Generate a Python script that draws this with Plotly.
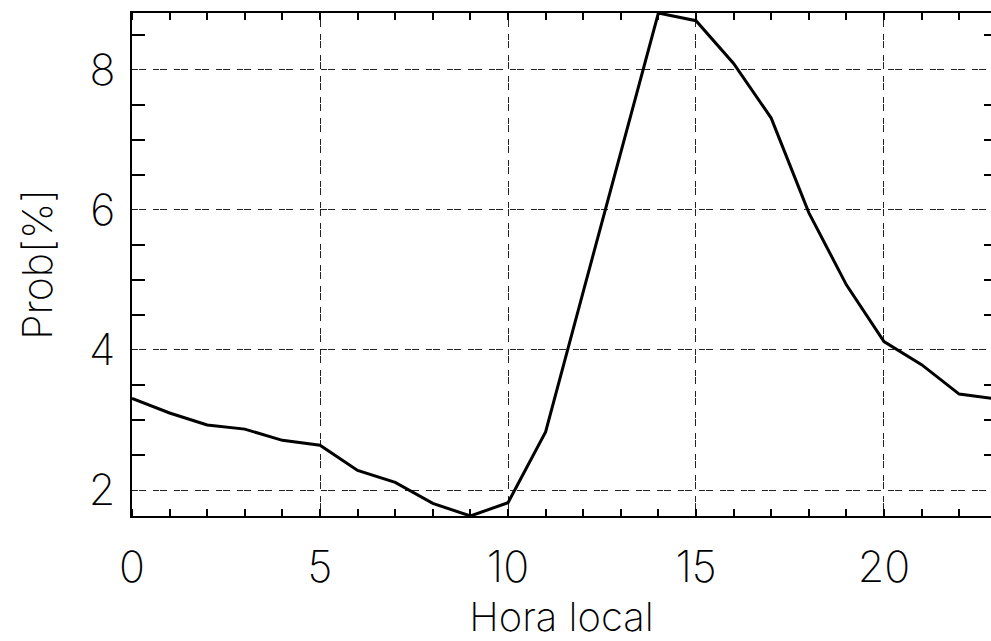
import plotly.graph_objects as go

# Hourly probability (%) over local time
hours = list(range(24))
prob = [3.31, 3.10, 2.93, 2.87, 2.71, 2.64, 2.28, 2.11, 1.81, 1.63,
        1.82, 2.83, 4.83, 6.83, 8.81, 8.70, 8.09, 7.31, 5.96, 4.93,
        4.12, 3.79, 3.37, 3.30]

x_ticks = [0, 5, 10, 15, 20]
y_ticks = [2, 4, 6, 8]
y_minor = [v / 2 for v in range(3, 18) if v % 4 != 0]

FONT = "Inter"
INK = "#000000"
GRID = "#222222"
DASH = "6px,1px,7px,7px"

x_range = [0, 22.846]
y_range = [min(prob), max(prob)]

fig = go.Figure()
fig.add_trace(go.Scatter(
    x=hours, y=prob, mode="lines",
    line=dict(color=INK, width=3),
    showlegend=False, hoverinfo="skip",
))
# invisible trace that carries the right-hand tick axis
fig.add_trace(go.Scatter(
    x=[None], y=[None], yaxis="y2", showlegend=False, hoverinfo="skip",
))

fig.update_layout(
    width=991, height=641,
    margin=dict(l=132, r=0, t=13, b=125),
    paper_bgcolor="white", plot_bgcolor="white",
    font=dict(family=FONT, color=INK, weight=200),
    xaxis=dict(
        range=x_range, tickmode="array", tickvals=x_ticks,
        ticks="", showline=True, linecolor=INK, linewidth=2, mirror="ticks",
        showgrid=True, gridcolor=GRID, gridwidth=1.3, griddash=DASH,
        zeroline=False, automargin=False,
        minor=dict(dtick=1, tick0=0, ticks="inside", ticklen=7,
                   tickwidth=1.5, tickcolor=INK, showgrid=False),
        tickfont=dict(size=43, family=FONT, weight=200),
        ticklabelstandoff=12,
        title=dict(text="Hora local", font=dict(size=40, family=FONT, weight=200),
                   standoff=25),
    ),
    yaxis=dict(
        range=y_range, tickmode="array", tickvals=y_ticks,
        ticks="", showline=True, linecolor=INK, linewidth=2,
        showgrid=True, gridcolor=GRID, gridwidth=1.3, griddash=DASH,
        zeroline=False, automargin=False,
        minor=dict(tickmode="array", tickvals=y_minor, ticks="inside",
                   ticklen=13, tickwidth=1.5, tickcolor=INK, showgrid=False),
        tickfont=dict(size=43, family=FONT, weight=200),
        ticklabelstandoff=6,
        title=dict(text="Prob[%]", font=dict(size=41, family=FONT, weight=200),
                   standoff=24),
    ),
    yaxis2=dict(
        range=y_range, overlaying="y", side="right", anchor="free", position=1,
        tickmode="array", tickvals=y_minor, ticks="inside", ticklen=7,
        tickwidth=1.5, tickcolor=INK, showticklabels=False,
        showline=False, showgrid=False, zeroline=False, automargin=False,
    ),
)

fig.write_html("out.html")
